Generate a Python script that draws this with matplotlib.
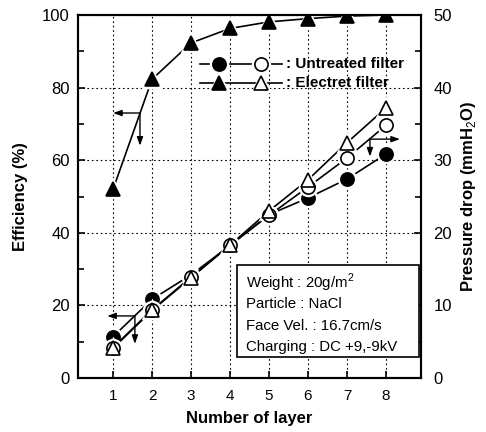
import matplotlib
matplotlib.use("Agg")
import matplotlib.pyplot as plt
from matplotlib.patches import Rectangle
from matplotlib.ticker import MultipleLocator

plt.rcParams['font.family'] = ['Liberation Sans', 'DejaVu Sans']
plt.rcParams['mathtext.fontset'] = 'custom'
plt.rcParams['mathtext.rm'] = 'Liberation Sans'
plt.rcParams['mathtext.bf'] = 'Liberation Sans:bold'

layers = [1, 2, 3, 4, 5, 6, 7, 8]
untreated_eff = [11.4, 21.7, 28.4, 36.5, 45.0, 49.6, 54.8, 61.7]
electret_eff = [52.0, 82.3, 92.3, 96.3, 98.1, 99.0, 99.7, 100.0]
untreated_dp = [4.2, 9.4, 13.9, 18.3, 22.4, 26.3, 30.3, 34.8]
electret_dp = [4.1, 9.3, 13.8, 18.3, 23.0, 27.3, 32.4, 37.2]

legend_labels = [": Untreated filter", ": Electret filter"]
info_lines = ["Weight : 20g/m$^2$", "Particle : NaCl", "Face Vel. : 16.7cm/s",
              "Charging : DC +9,-9kV"]

fig = plt.figure(figsize=(4.86, 4.32), dpi=100)
ax = fig.add_axes([78/486, 1-378/432, (421-78)/486, (378-15)/432])
ax2 = ax.twinx()

ax.set_xlim(0.1, 8.9)
ax.set_ylim(0, 100)
ax2.set_ylim(0, 50)

ax.set_xticks(layers)
ax.set_yticks([0, 20, 40, 60, 80, 100])
ax.yaxis.set_minor_locator(MultipleLocator(10))
ax2.set_yticks([0, 10, 20, 30, 40, 50])
ax2.yaxis.set_minor_locator(MultipleLocator(5))

for a in (ax, ax2):
    for s in a.spines.values():
        s.set_linewidth(1.5)
ax.tick_params(axis='both', which='both', direction='in', labelsize=12, width=1.2)
ax.tick_params(axis='both', which='major', length=5)
ax.tick_params(axis='y', which='minor', length=4)
ax.tick_params(axis='y', pad=6)
ax.tick_params(axis='x', labelsize=11, pad=8)
ax2.tick_params(axis='y', which='both', direction='in', labelsize=12, width=1.2)
ax2.tick_params(axis='y', which='major', length=5, pad=9)
ax2.tick_params(axis='y', which='minor', length=4)

ax.grid(True, which='major', linestyle=(0, (1.5, 2.5)), color='black', linewidth=0.8)
ax.set_axisbelow(True)

ax.set_xlabel("Number of layer", fontsize=12, fontweight='bold', labelpad=6)
ax.set_ylabel("Efficiency (%)", fontsize=12, fontweight='bold', labelpad=10)
ax2.set_ylabel("Pressure drop (mmH$_2$O)", fontsize=12, fontweight='bold', labelpad=5)


def series(a, y, marker, filled):
    a.plot(layers, y, color='black', lw=1.2, zorder=3)
    a.plot(layers, y, linestyle='none', marker=marker, ms=11.5, mfc='white',
           mec='white', mew=2.5, zorder=4)
    a.plot(layers, y, linestyle='none', marker=marker, ms=9.5,
           mfc='black' if filled else 'white', mec='black', mew=1.2, zorder=5)


series(ax, untreated_eff, 'o', True)
series(ax, electret_eff, '^', True)
series(ax2, untreated_dp, 'o', False)
series(ax2, electret_dp, '^', False)


def fx(px):
    return (px - 78) / 343


def fy(py):
    return (378 - py) / 363


for row, (mk, lab) in enumerate(zip(['o', '^'], legend_labels)):
    yy = fy(64 + 19 * row)
    ax2.plot([fx(200), fx(282)], [yy, yy], color='black', lw=1.2,
             transform=ax2.transAxes, zorder=6)
    for xm, filled in ((219, True), (261, False)):
        ax2.plot([fx(xm)], [yy], marker=mk, ms=11.5, mfc='white', mec='white', mew=2.5,
                 transform=ax2.transAxes, zorder=7)
        ax2.plot([fx(xm)], [yy], marker=mk, ms=9.5,
                 mfc='black' if filled else 'white', mec='black', mew=1.2,
                 transform=ax2.transAxes, zorder=8)
    ax2.text(fx(286), yy, lab, transform=ax2.transAxes, fontsize=11,
             fontweight='bold', va='center', ha='left', zorder=8)

rect = Rectangle((fx(237), fy(357)), fx(419) - fx(237), fy(265) - fy(357),
                 transform=ax2.transAxes, facecolor='white', edgecolor='black',
                 lw=1.2, zorder=9)
ax2.add_patch(rect)
for i, line in enumerate(info_lines):
    ax2.text(fx(246), fy(283 + 21.3 * i), line, transform=ax2.transAxes,
             fontsize=10.8, va='center', ha='left', zorder=10)

arrow = dict(arrowstyle='-|>,head_length=0.5,head_width=0.18', color='black', lw=1.0,
             shrinkA=0, shrinkB=0)
for (cx, cy), tips in [((1.69, 73.0), [(1.0, 73.0), (1.69, 64.0)]),
                       ((1.56, 17.1), [(0.85, 17.1), (1.56, 9.4)]),
                       ((7.59, 65.8), [(8.36, 65.8), (7.59, 61.0)])]:
    for tx, ty in tips:
        ax.annotate("", xy=(tx, ty), xytext=(cx, cy), arrowprops=arrow, zorder=6)

fig.savefig("out.png", dpi=100)
